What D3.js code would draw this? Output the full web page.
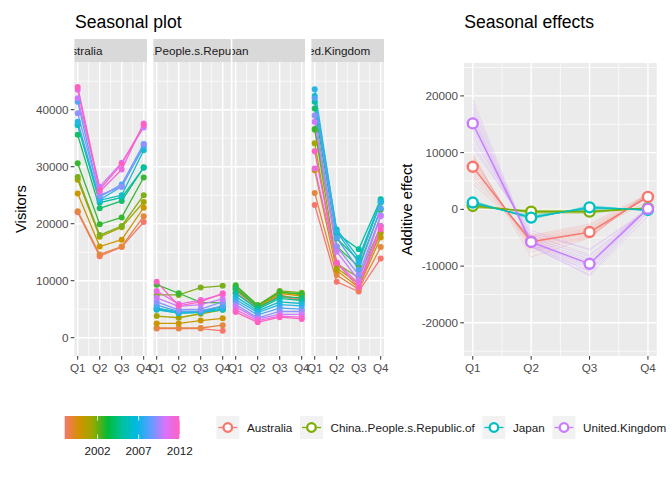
<!DOCTYPE html>
<html><head><meta charset="utf-8">
<script src="https://cdn.jsdelivr.net/npm/d3@7"></script>
<style>body{margin:0;background:#fff}svg text{font-family:"Liberation Sans",Arial,sans-serif}</style>
</head><body><svg id="c" width="672" height="480"></svg>
<script>
// ---------------- DATA ----------------
const quarters = ["Q1","Q2","Q3","Q4"];
const countries = ["Australia","China..People.s.Republic.of","Japan","United.Kingdom"];
const years = [1998,1999,2000,2001,2002,2003,2004,2005,2006,2007,2008,2009,2010,2011,2012];

// visitors per year (rows, 1998..2012) x quarter (Q1..Q4)
const visitorsAustralia = [
  [22000,14300,15900,20300],[22200,14600,16000,21300],[25300,16000,17200,22800],
  [27700,17700,19400,23800],[28200,18000,19600,25000],[30600,19900,21100,28100],
  [35600,22700,24000,29900],[37300,23700,24600,29800],[37300,24100,25000,32900],
  [37900,24200,26500,33500],[41400,24700,26900,34000],[39400,25000,26500,33900],
  [42000,26500,30700,36900],[43500,25600,29500,37600],[44000,26000,30500,37300]];
const visitorsChina = [
  [1600,1600,1600,1200],[1700,1700,1700,2200],[2500,2500,3000,3400],
  [3800,3500,4200,4900],[7500,7500,8800,9100],[9300,7800,6200,6100],
  [5200,4500,4600,5500],[5000,4300,4500,5000],[4900,4300,4400,4900],
  [5200,4400,4600,5200],[5700,4600,4700,5600],[6300,4900,5000,6300],
  [7000,5500,5800,6800],[8200,5900,6600,7600],[9800,5600,6300,7800]];
const visitorsJapan = [
  [7800,5200,7300,6500],[8200,5400,7500,6700],[8500,5400,7800,7300],
  [8800,5600,8000,7500],[9000,5700,8200,7900],[9200,5700,8000,7700],
  [8600,5300,7200,7000],[7800,5000,6900,6500],[7200,4700,6300,6000],
  [6700,4400,5800,5600],[6300,4000,5200,5000],[5800,3500,4600,4600],
  [5400,3300,4100,4100],[4900,3000,3800,3600],[4500,2700,3600,3300]];
const visitorsUK = [
  [23300,9800,8100,13900],[25400,11000,8500,15900],[29400,11800,8800,17600],
  [34100,12200,9500,18400],[36500,13000,10500,19600],[36600,16000,12500,22500],
  [40200,17400,13600,23700],[41400,18300,15500,24300],[42400,19000,14000,24000],
  [43600,18600,13200,23800],[42000,17500,12000,22700],[39000,16000,11000,21500],
  [37900,15100,10100,21300],[29700,13200,9500,19600],[32700,13100,8800,19000]];

// average seasonal effects (Q1..Q4)
const effectAustralia = [7500,-5700,-4000,2200];
const effectChina = [600,-400,-400,200];
const effectJapan = [1200,-1450,350,-100];
const effectUK = [15150,-5750,-9600,100];

// yearly seasonal effects (faint lines)
const yearlyEffectAustralia = [
  [4500,-4600,-2600,2700],[5200,-4800,-2900,2500],[5800,-5000,-3200,2400],[6300,-5200,-3400,2300],
  [6800,-5400,-3600,2200],[7200,-5500,-3800,2100],[7500,-5700,-4000,2200],[7800,-5900,-4100,2200],
  [8100,-6100,-4300,2300],[8400,-6300,-4500,2400],[8800,-6600,-4700,2500],[9100,-7000,-4800,2700],
  [9400,-7500,-4900,2900],[9800,-8400,-5000,3000],[7600,-5800,-4100,1500]];
const yearlyEffectChina = [
  [200,-100,-100,0],[300,-200,-200,100],[400,-300,-200,100],[500,-300,-300,100],[500,-400,-300,200],
  [600,-400,-400,200],[600,-400,-400,200],[700,-500,-400,200],[700,-500,-500,300],[800,-600,-500,300],
  [900,-600,-600,300],[1000,-700,-700,400],[400,-200,-300,100],[800,-500,-600,300],[600,-300,-500,200]];
const yearlyEffectJapan = [
  [800,-1000,0,100],[900,-1100,100,100],[1000,-1200,100,0],[1100,-1300,200,0],[1100,-1300,200,-100],
  [1200,-1400,300,-100],[1200,-1400,300,-100],[1300,-1500,400,-100],[1300,-1500,400,-200],[1400,-1600,500,-200],
  [1500,-1700,600,-300],[1600,-1800,700,-300],[1000,-1300,100,100],[1400,-1600,500,-200],[1200,-1400,300,-100]];
const yearlyEffectUK = [
  [10800,-3700,-7200,100],[11500,-4200,-7000,-300],[12500,-4500,-8000,0],[13200,-5000,-8300,100],
  [14000,-5300,-8800,100],[14600,-5500,-9200,100],[15200,-5900,-9500,200],[15600,-6000,-9800,200],
  [16000,-6200,-10000,200],[16500,-6300,-10400,200],[17000,-6400,-10800,200],[17800,-6500,-11000,-300],
  [18500,-6600,-11500,-400],[19400,-6500,-11700,-1200],[15000,-6000,-9600,600]];

const leftYTicks = [0,10000,20000,30000,40000];
const leftYMinor = [5000,15000,25000,35000,45000];
const rightYTicks = [-20000,-10000,0,10000,20000];
const rightYMinor = [-25000,-15000,-5000,5000,15000,25000];
const colorbarTicks = [2002,2007,2012];

const countryColors = ["#F8766D","#7CAE00","#00BFC4","#C77CFF"];
const yearPalette = ["#F8766D","#D39200","#93AA00","#00BA38","#00C19F","#00B9E3","#619CFF","#DB72FB","#FF61C3"];

const visitorTables = [visitorsAustralia, visitorsChina, visitorsJapan, visitorsUK];
const effectMeans = [effectAustralia, effectChina, effectJapan, effectUK];
const effectYearly = [yearlyEffectAustralia, yearlyEffectChina, yearlyEffectJapan, yearlyEffectUK];

// ---------------- LAYOUT ----------------
const svg = d3.select("#c");
const GREY_BG = "#EBEBEB", TICK = "#333333", TICKTXT = "#4D4D4D";
const yearMin = d3.min(years), yearMax = d3.max(years);
const yearColor = d3.scaleLinear()
  .domain(yearPalette.map((_, i) => yearMin + (yearMax - yearMin) * i / (yearPalette.length - 1)))
  .range(yearPalette).interpolate(d3.interpolateLab);

const pTop = 62, pBottom = 356, stripTop = 39;
const panelW = 72.6, panelStep = 79, firstLeft = 74.4;
const stripTextShift = [-31, 0, -36, -19];
const panelExtraRight = [0, 4.8, 0, 0];

const yL = d3.scaleLinear().domain([-3210, 48370]).range([pBottom, pTop]);
const qIdx = [1,2,3,4];

svg.append("text").attr("x", 75).attr("y", 27.6).attr("font-size", 17.6).attr("fill", "#000").text("Seasonal plot");
svg.append("text").attr("x", 464.3).attr("y", 27.6).attr("font-size", 17.6).attr("fill", "#000").text("Seasonal effects");

const defs = svg.append("defs");

countries.forEach((c, i) => {
  const L = firstLeft + i * panelStep;
  const W = panelW + panelExtraRight[i];
  const x = d3.scaleLinear().domain([0.85, 4.15]).range([L, L + panelW]);
  const g = svg.append("g");
  g.append("rect").attr("x", L).attr("y", pTop).attr("width", W).attr("height", pBottom - pTop).attr("fill", GREY_BG);
  leftYMinor.forEach(v => g.append("line").attr("x1", L).attr("x2", L + W).attr("y1", yL(v)).attr("y2", yL(v)).attr("stroke", "#fff").attr("stroke-width", 0.7));
  [1.5,2.5,3.5].forEach(v => g.append("line").attr("x1", x(v)).attr("x2", x(v)).attr("y1", pTop).attr("y2", pBottom).attr("stroke", "#fff").attr("stroke-width", 0.7));
  leftYTicks.forEach(v => g.append("line").attr("x1", L).attr("x2", L + W).attr("y1", yL(v)).attr("y2", yL(v)).attr("stroke", "#fff").attr("stroke-width", 1.4));
  qIdx.forEach(v => g.append("line").attr("x1", x(v)).attr("x2", x(v)).attr("y1", pTop).attr("y2", pBottom).attr("stroke", "#fff").attr("stroke-width", 1.4));

  // strip
  defs.append("clipPath").attr("id", "strip" + i).append("rect").attr("x", L).attr("y", stripTop).attr("width", W).attr("height", pTop - stripTop);
  g.append("rect").attr("x", L).attr("y", stripTop).attr("width", W).attr("height", pTop - stripTop).attr("fill", "#D9D9D9");
  g.append("text").attr("clip-path", "url(#strip" + i + ")").attr("x", L + panelW / 2 + stripTextShift[i]).attr("y", (stripTop + pTop) / 2 + 4.1)
    .attr("text-anchor", "middle").attr("font-size", 11.7).attr("fill", "#1A1A1A").text(c);

  // x axis
  qIdx.forEach((v, k) => {
    g.append("line").attr("x1", x(v)).attr("x2", x(v)).attr("y1", pBottom).attr("y2", pBottom + 3.7).attr("stroke", TICK).attr("stroke-width", 1);
    g.append("text").attr("x", x(v)).attr("y", 371.5).attr("text-anchor", "middle").attr("font-size", 11.7).attr("fill", TICKTXT).text(quarters[k]);
  });

  const data = visitorTables[i];
  const line = d3.line().x((d, k) => x(qIdx[k])).y(d => yL(d));
  data.forEach((row, r) => {
    g.append("path").attr("d", line(row)).attr("fill", "none").attr("stroke", yearColor(years[r])).attr("stroke-width", 1.3);
  });
  data.forEach((row, r) => {
    row.forEach((v, k) => g.append("circle").attr("cx", x(qIdx[k])).attr("cy", yL(v)).attr("r", 3).attr("fill", yearColor(years[r])));
  });
});

// left y axis
leftYTicks.forEach(v => {
  svg.append("line").attr("x1", firstLeft - 3.7).attr("x2", firstLeft).attr("y1", yL(v)).attr("y2", yL(v)).attr("stroke", TICK).attr("stroke-width", 1);
  svg.append("text").attr("x", firstLeft - 5.9).attr("y", yL(v) + 4.1).attr("text-anchor", "end").attr("font-size", 11.7).attr("fill", TICKTXT).text(v);
});
svg.append("text").attr("transform", "translate(26,209) rotate(-90)").attr("text-anchor", "middle").attr("font-size", 14.67).attr("fill", "#000").text("Visitors");

// ---------------- RIGHT PANEL ----------------
const RL = 464, RR = 656.7, RT = 63, RB = 356;
const xR = d3.scaleLinear().domain([0.85, 4.15]).range([RL, RR]);
const yR = d3.scaleLinear().domain([-25850, 25800]).range([RB, RT]);
const gR = svg.append("g");
gR.append("rect").attr("x", RL).attr("y", RT).attr("width", RR - RL).attr("height", RB - RT).attr("fill", GREY_BG);
rightYMinor.forEach(v => gR.append("line").attr("x1", RL).attr("x2", RR).attr("y1", yR(v)).attr("y2", yR(v)).attr("stroke", "#fff").attr("stroke-width", 0.7));
[1.5,2.5,3.5].forEach(v => gR.append("line").attr("x1", xR(v)).attr("x2", xR(v)).attr("y1", RT).attr("y2", RB).attr("stroke", "#fff").attr("stroke-width", 0.7));
rightYTicks.forEach(v => gR.append("line").attr("x1", RL).attr("x2", RR).attr("y1", yR(v)).attr("y2", yR(v)).attr("stroke", "#fff").attr("stroke-width", 1.4));
qIdx.forEach(v => gR.append("line").attr("x1", xR(v)).attr("x2", xR(v)).attr("y1", RT).attr("y2", RB).attr("stroke", "#fff").attr("stroke-width", 1.4));

const lineR = d3.line().x((d, k) => xR(qIdx[k])).y(d => yR(d));
effectYearly.forEach((rows, i) => rows.forEach(row =>
  gR.append("path").attr("d", lineR(row)).attr("fill", "none").attr("stroke", countryColors[i]).attr("stroke-opacity", 0.22).attr("stroke-width", 1)));
effectMeans.forEach((row, i) =>
  gR.append("path").attr("d", lineR(row)).attr("fill", "none").attr("stroke", countryColors[i]).attr("stroke-width", 1.3));
effectMeans.forEach((row, i) => row.forEach((v, k) =>
  gR.append("circle").attr("cx", xR(qIdx[k])).attr("cy", yR(v)).attr("r", 5).attr("fill", "#fff").attr("stroke", countryColors[i]).attr("stroke-width", 2.4)));

rightYTicks.forEach(v => {
  svg.append("line").attr("x1", RL - 3.7).attr("x2", RL).attr("y1", yR(v)).attr("y2", yR(v)).attr("stroke", TICK).attr("stroke-width", 1);
  svg.append("text").attr("x", RL - 5.9).attr("y", yR(v) + 4.1).attr("text-anchor", "end").attr("font-size", 11.7).attr("fill", TICKTXT).text(v);
});
qIdx.forEach((v, k) => {
  svg.append("line").attr("x1", xR(v)).attr("x2", xR(v)).attr("y1", RB).attr("y2", RB + 3.7).attr("stroke", TICK).attr("stroke-width", 1);
  svg.append("text").attr("x", xR(v)).attr("y", 371.5).attr("text-anchor", "middle").attr("font-size", 11.7).attr("fill", TICKTXT).text(quarters[k]);
});
svg.append("text").attr("transform", "translate(411.5," + (RT + RB) / 2 + ") rotate(-90)").attr("text-anchor", "middle").attr("font-size", 14.67).attr("fill", "#000").text("Additive effect");

// ---------------- LEGENDS ----------------
const keySize = 23, legTop = 416;
const cbX0 = 64.7, cbX1 = cbX0 + 5 * keySize, cbY0 = legTop, cbY1 = legTop + keySize;
const cbScale = d3.scaleLinear().domain([yearMin, yearMax]).range([cbX0, cbX1]);
const grad = defs.append("linearGradient").attr("id", "cb").attr("x1", "0%").attr("x2", "100%").attr("y1", "0%").attr("y2", "0%");
yearPalette.forEach((col, k) => grad.append("stop").attr("offset", (100 * k / (yearPalette.length - 1)) + "%").attr("stop-color", col));
svg.append("rect").attr("x", cbX0).attr("y", cbY0).attr("width", cbX1 - cbX0).attr("height", cbY1 - cbY0).attr("fill", "url(#cb)");
colorbarTicks.forEach(t => {
  const xx = cbScale(t);
  svg.append("line").attr("x1", xx).attr("x2", xx).attr("y1", cbY0).attr("y2", cbY0 + 4.6).attr("stroke", "#fff").attr("stroke-width", 0.8);
  svg.append("line").attr("x1", xx).attr("x2", xx).attr("y1", cbY1 - 4.6).attr("y2", cbY1).attr("stroke", "#fff").attr("stroke-width", 0.8);
  svg.append("text").attr("x", xx).attr("y", 455).attr("text-anchor", "middle").attr("font-size", 11.7).attr("fill", "#1A1A1A").text(t);
});

let lx = 216.3;
countries.forEach((c, i) => {
  const cy = legTop + keySize / 2;
  svg.append("rect").attr("x", lx).attr("y", legTop).attr("width", keySize).attr("height", keySize).attr("fill", "#F2F2F2");
  svg.append("line").attr("x1", lx + 2).attr("x2", lx + keySize - 2).attr("y1", cy).attr("y2", cy).attr("stroke", countryColors[i]).attr("stroke-width", 1.3);
  svg.append("circle").attr("cx", lx + keySize / 2).attr("cy", cy).attr("r", 4.3).attr("fill", "#fff").attr("stroke", countryColors[i]).attr("stroke-width", 2.3);
  const t = svg.append("text").attr("x", lx + keySize + 7.6).attr("y", cy + 4.1).attr("font-size", 11.7).attr("fill", "#1A1A1A").text(c);
  lx = lx + keySize + 7.6 + t.node().getComputedTextLength() + 7.6;
});
</script></body></html>
